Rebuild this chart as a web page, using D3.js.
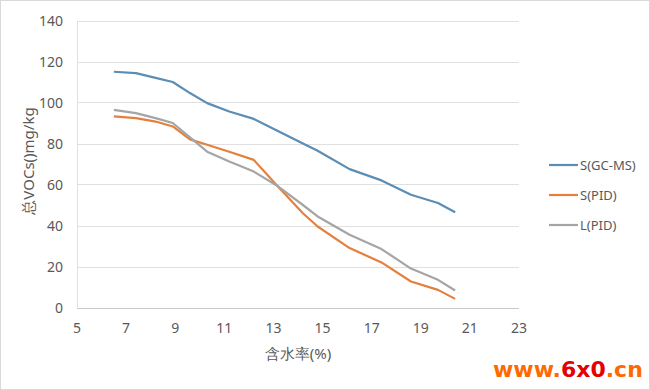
<!DOCTYPE html>
<html>
<head>
<meta charset="utf-8">
<script src="https://cdn.jsdelivr.net/npm/d3@7"></script>
<style>
  body { margin: 0; background: #fff; }
  svg text { font-family: "Noto Sans", "Open Sans", sans-serif; fill: #595959; }
</style>
</head>
<body>
<svg id="chart"></svg>
<script>
// water content (%) readings
var moisture = [6.5, 7.4, 8.2, 8.9, 9.6, 10.3, 11.2, 12.2, 13.2, 14.2, 14.8, 16.1, 17.4, 18.6, 19.7, 20.4];
var sGcms = [115, 114.3, 112, 110, 104.6, 99.7, 95.6, 92, 86, 80, 76.5, 67.5, 62, 55, 51, 46.5];
var sPid  = [93.2, 92.4, 90.7, 88.3, 82, 79.4, 76, 72, 58.8, 46, 39.5, 29, 22, 12.7, 8.6, 4.2];
var lPid  = [96.4, 94.8, 92.4, 90, 83, 76, 71.2, 66.3, 59, 50, 44.4, 35.5, 28.5, 19, 13.5, 8.3];
var seriesNames = ['S(GC-MS)', 'S(PID)', 'L(PID)'];
var seriesColors = ['#5b8db5', '#e4803c', '#a5a5a5'];
var xTicks = [5, 7, 9, 11, 13, 15, 17, 19, 21, 23];
var yTicks = [0, 20, 40, 60, 80, 100, 120, 140];

var width = 650, height = 390;
var svg = d3.select('#chart').attr('width', width).attr('height', height);

// outer frame
svg.append('rect')
    .attr('x', 0.5).attr('y', 0.5)
    .attr('width', width - 1).attr('height', height - 1)
    .attr('fill', '#fff').attr('stroke', '#d9d9d9');

var x = d3.scaleLinear().domain([5, 23]).range([77, 519]);
var y = d3.scaleLinear().domain([0, 140]).range([307.5, 20.5]);

// gridlines
svg.append('g').selectAll('line')
    .data(yTicks)
    .enter().append('line')
    .attr('x1', x(5)).attr('x2', x(23))
    .attr('y1', function(d) { return Math.round(y(d)) + 0.5; })
    .attr('y2', function(d) { return Math.round(y(d)) + 0.5; })
    .attr('stroke', function(d) { return d === 0 ? '#c8c8c8' : '#e0e0e0'; })
    .attr('stroke-width', 1);

// y axis line
svg.append('line')
    .attr('x1', x(5) + 0.5).attr('x2', x(5) + 0.5)
    .attr('y1', y(140)).attr('y2', y(0))
    .attr('stroke', '#e0e0e0');

// tick labels
svg.append('g').selectAll('text')
    .data(yTicks)
    .enter().append('text')
    .attr('x', 63)
    .attr('y', function(d) { return y(d) + 5; })
    .attr('text-anchor', 'end')
    .style('font-size', '14px')
    .text(function(d) { return d; });

svg.append('g').selectAll('text')
    .data(xTicks)
    .enter().append('text')
    .attr('x', function(d) { return x(d); })
    .attr('y', 333)
    .attr('text-anchor', 'middle')
    .style('font-size', '14px')
    .text(function(d) { return d; });

// axis titles
svg.append('text')
    .attr('transform', 'translate(34,161) rotate(-90)')
    .attr('text-anchor', 'middle')
    .style('font-size', '15px')
    .text('总VOCs()mg/kg');

svg.append('text')
    .attr('x', (x(5) + x(23)) / 2)
    .attr('y', 359)
    .attr('text-anchor', 'middle')
    .style('font-size', '15px')
    .text('含水率(%)');

// lines
var seriesData = [sGcms, sPid, lPid];
var line = d3.line()
    .x(function(d, i) { return x(moisture[i]); })
    .y(function(d) { return y(d); });

svg.append('g').selectAll('path')
    .data(seriesData)
    .enter().append('path')
    .attr('d', line)
    .attr('fill', 'none')
    .attr('stroke', function(d, i) { return seriesColors[i]; })
    .attr('stroke-width', 2.2)
    .attr('stroke-linejoin', 'round');

// legend
var legend = svg.append('g').selectAll('g')
    .data(seriesNames)
    .enter().append('g')
    .attr('transform', function(d, i) { return 'translate(549,' + (165 + i * 30) + ')'; });
legend.append('line')
    .attr('x1', 0).attr('x2', 29)
    .attr('stroke', function(d, i) { return seriesColors[i]; })
    .attr('stroke-width', 2.2);
legend.append('text')
    .attr('x', 31).attr('y', 5)
    .style('font-size', '13px')
    .text(function(d) { return d; });

// watermark
var wm = svg.append('text')
    .attr('x', 493).attr('y', 377)
    .style('font-family', '"DejaVu Sans", "Liberation Sans", sans-serif')
    .style('font-weight', 'bold')
    .style('font-size', '22px');
wm.append('tspan').style('fill', '#ff6a00').text('www.');
wm.append('tspan').style('fill', '#e60000').text('6x0');
wm.append('tspan').style('fill', '#ff6a00').text('.cn');
</script>
</body>
</html>
